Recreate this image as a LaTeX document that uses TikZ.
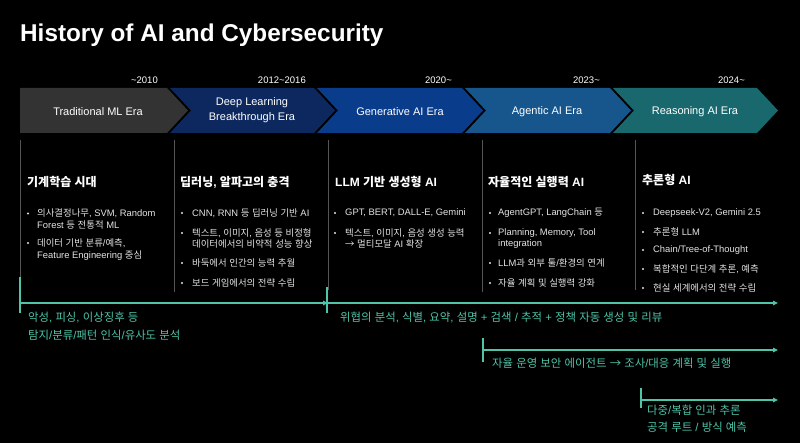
\documentclass[tikz,border=0pt]{standalone}
\usepackage{fontspec}
\setmainfont{Liberation Sans}
\newfontfamily\kr{Noto Sans CJK KR}
\usetikzlibrary{arrows.meta}
% Hangul syllables automatically set in the Korean font
\XeTeXinterchartokenstate=1
\newXeTeXintercharclass\HangulClass
\newcount\hgc
\hgc="AC00
\loop
  \XeTeXcharclass\hgc=\HangulClass
  \ifnum\hgc<"D7A3 \advance\hgc by 1
\repeat
\XeTeXinterchartoks 0 \HangulClass = {\begingroup\kr}
\XeTeXinterchartoks 4095 \HangulClass = {\begingroup\kr}
\XeTeXinterchartoks \HangulClass 0 = {\endgroup}
\XeTeXinterchartoks \HangulClass 4095 = {\endgroup}
\definecolor{segA}{RGB}{51,51,51}
\definecolor{segB}{RGB}{12,40,94}
\definecolor{segC}{RGB}{10,60,140}
\definecolor{segD}{RGB}{22,86,140}
\definecolor{segE}{RGB}{25,104,110}
\definecolor{tealc}{RGB}{78,196,168}
\definecolor{sepgray}{RGB}{85,85,85}
\definecolor{bodygray}{RGB}{228,228,228}
\tikzset{
  hdr/.style={anchor=west, inner sep=0pt, text=white, font=\bfseries\fontsize{12}{14}\selectfont},
  bodytxt/.style={anchor=west, inner sep=0pt, text=bodygray, font=\fontsize{9.4}{11}\selectfont},
  tealtxt/.style={anchor=west, inner sep=0pt, text=tealc, font=\fontsize{11.4}{13}\selectfont},
  era/.style={inner sep=0pt, text=white, align=center, font=\fontsize{11}{15}\selectfont},
  yr/.style={anchor=east, inner sep=0pt, text=white, font=\fontsize{9.5}{11}\selectfont},
  sepline/.style={draw=sepgray, line width=0.8pt},
  tlarrow/.style={draw=tealc, line width=1.1pt, -{Triangle[length=5pt,width=4.5pt]}},
  tltick/.style={draw=tealc, line width=1.1pt},
  bul/.style={fill=bodygray}
}
\begin{document}
\begin{tikzpicture}[x=1pt,y=-1pt]
\useasboundingbox (0,0) rectangle (800,443);
\fill[black] (0,0) rectangle (800,443);

% title
\node[anchor=base west, inner sep=0pt, text=white, font=\bfseries\fontsize{24.3}{28}\selectfont] (title) at (20,42) {History of AI and Cybersecurity};

% chevrons
\fill[segA] (20,88) -- (167,88) -- (188,110.5) -- (167,133) -- (20,133) -- cycle;
\fill[segB] (170,88) -- (314,88) -- (335,110.5) -- (314,133) -- (170,133) -- (191,110.5) -- cycle;
\fill[segC] (317,88) -- (462,88) -- (483,110.5) -- (462,133) -- (317,133) -- (338,110.5) -- cycle;
\fill[segD] (465,88) -- (610,88) -- (631,110.5) -- (610,133) -- (465,133) -- (486,110.5) -- cycle;
\fill[segE] (613,88) -- (757,88) -- (778,110.5) -- (757,133) -- (613,133) -- (634,110.5) -- cycle;

\node[era] (era1) at (98,111.5) {Traditional ML Era};
\node[era] (era2) at (252,110.5) {Deep Learning\\Breakthrough Era};
\node[era] (era3) at (400,111.5) {Generative AI Era};
\node[era] (era4) at (547,111.5) {Agentic AI Era};
\node[era] (era5) at (695,111.5) {Reasoning AI Era};

\node[yr] (yr1) at (158,80) {\textasciitilde 2010};
\node[yr] (yr2) at (306,80) {2012\textasciitilde 2016};
\node[yr] (yr3) at (452,80) {2020\textasciitilde};
\node[yr] (yr4) at (600,80) {2023\textasciitilde};
\node[yr] (yr5) at (745,80) {2024\textasciitilde};

% separators
\draw[sepline] (20,140) -- (20,278);
\draw[sepline] (174,140) -- (174,292);
\draw[sepline] (328,140) -- (328,290);
\draw[sepline] (482,140) -- (482,292);
\draw[sepline] (635,140) -- (635,290);

% column 1
\node[hdr] (h1) at (27,182) {기계학습 시대};
\fill[bul] (28,213.5) circle (1.1pt);
\node[bodytxt] (c1a) at (37,213.5) {의사결정나무, SVM, Random};
\node[bodytxt] (c1b) at (37,225) {Forest 등 전통적 ML};
\fill[bul] (28,243) circle (1.1pt);
\node[bodytxt] (c1c) at (37,243) {데이터 기반 분류/예측,};
\node[bodytxt] (c1d) at (37,256) {Feature Engineering 중심};

% column 2
\node[hdr] (h2) at (180,182) {딥러닝, 알파고의 충격};
\fill[bul] (182,213) circle (1.1pt);
\node[bodytxt] (c2a) at (192,213) {CNN, RNN 등 딥러닝 기반 AI};
\fill[bul] (182,233) circle (1.1pt);
\node[bodytxt] (c2b) at (192,233) {텍스트, 이미지, 음성 등 비정형};
\node[bodytxt] (c2c) at (192,244) {데이터에서의 비약적 성능 향상};
\fill[bul] (182,263) circle (1.1pt);
\node[bodytxt] (c2d) at (192,263) {바둑에서 인간의 능력 추월};
\fill[bul] (182,283) circle (1.1pt);
\node[bodytxt] (c2e) at (192,283) {보드 게임에서의 전략 수립};

% column 3
\node[hdr] (h3) at (335,182) {LLM 기반 생성형 AI};
\fill[bul] (335,213) circle (1.1pt);
\node[bodytxt] (c3a) at (345,213) {GPT, BERT, DALL-E, Gemini};
\fill[bul] (335,233) circle (1.1pt);
\node[bodytxt] (c3b) at (345,233) {텍스트, 이미지, 음성 생성 능력};
\node[bodytxt] (c3c) at (345,244) {{\kr →} 멀티모달 AI 확장};

% column 4
\node[hdr] (h4) at (488,182) {자율적인 실행력 AI};
\fill[bul] (490,213) circle (1.1pt);
\node[bodytxt] (c4a) at (498,213) {AgentGPT, LangChain 등};
\fill[bul] (490,233) circle (1.1pt);
\node[bodytxt] (c4b) at (498,233) {Planning, Memory, Tool};
\node[bodytxt] (c4c) at (498,244) {integration};
\fill[bul] (490,263) circle (1.1pt);
\node[bodytxt] (c4d) at (498,263) {LLM과 외부 툴/환경의 연계};
\fill[bul] (490,283) circle (1.1pt);
\node[bodytxt] (c4e) at (498,283) {자율 계획 및 실행력 강화};

% column 5
\node[hdr] (h5) at (642,180) {추론형 AI};
\fill[bul] (643,213) circle (1.1pt);
\node[bodytxt] (c5a) at (653,213) {Deepseek-V2, Gemini 2.5};
\fill[bul] (643,232) circle (1.1pt);
\node[bodytxt] (c5b) at (653,232) {추론형 LLM};
\fill[bul] (643,250) circle (1.1pt);
\node[bodytxt] (c5c) at (653,250) {Chain/Tree-of-Thought};
\fill[bul] (643,269) circle (1.1pt);
\node[bodytxt] (c5d) at (653,269) {복합적인 다단계 추론, 예측};
\fill[bul] (643,288) circle (1.1pt);
\node[bodytxt] (c5e) at (653,288) {현실 세계에서의 전략 수립};

% timelines
\coordinate (t1s) at (20,303);
\coordinate (t1e) at (328,303);
\coordinate (t2s) at (327,303);
\coordinate (t2e) at (778,303);
\coordinate (t3s) at (483,350);
\coordinate (t3e) at (778,350);
\coordinate (t4s) at (641,400);
\coordinate (t4e) at (778,400);

\draw[tltick] (20,277) -- (20,313);
\draw[tlarrow] (t1s) -- (t1e);
\draw[tltick] (327,287) -- (327,313);
\draw[tlarrow] (t2s) -- (t2e);
\draw[tltick] (483,338) -- (483,362);
\draw[tlarrow] (t3s) -- (t3e);
\draw[tltick] (641,388) -- (641,408);
\draw[tlarrow] (t4s) -- (t4e);

\node[tealtxt] (b1a) at (28,317) {악성, 피싱, 이상징후 등};
\node[tealtxt] (b1b) at (28,335) {탐지/분류/패턴 인식/유사도 분석};
\node[tealtxt] (b2) at (340,317) {위협의 분석, 식별, 요약, 설명 + 검색 / 추적 + 정책 자동 생성 및 리뷰};
\node[tealtxt] (b3) at (492,363) {자율 운영 보안 에이전트 {\kr →} 조사/대응 계획 및 실행};
\node[tealtxt] (b4a) at (647,410) {다중/복합 인과 추론};
\node[tealtxt] (b4b) at (647,427) {공격 루트 / 방식 예측};
\end{tikzpicture}
\end{document}
